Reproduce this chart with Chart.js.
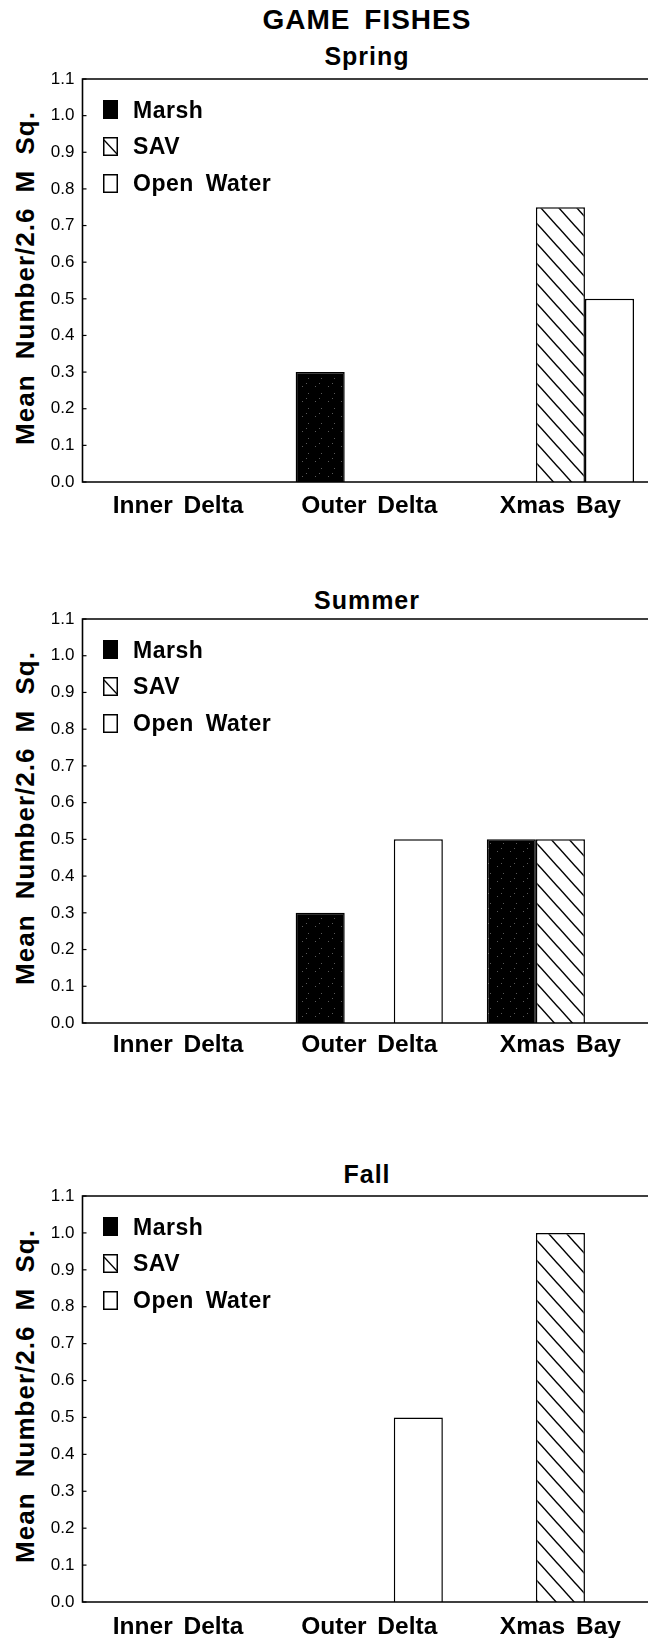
<!DOCTYPE html>
<html><head><meta charset="utf-8">
<script src="https://cdn.jsdelivr.net/npm/chart.js@4.4.0/dist/chart.umd.min.js"></script>
<style>
html,body{margin:0;padding:0;background:#fff;overflow:hidden;}
body{width:648px;height:1638px;position:relative;}
.t{position:absolute;left:0;width:734px;text-align:center;font-family:"Liberation Sans",Arial,sans-serif;font-weight:bold;color:#000;letter-spacing:1px;word-spacing:5px;white-space:nowrap;}
canvas{position:absolute;left:0;}
.lg{position:absolute;left:103px;font-family:"Liberation Sans",Arial,sans-serif;font-weight:bold;font-size:23px;letter-spacing:0.5px;word-spacing:5px;color:#000;white-space:nowrap;}
.row{position:relative;height:36.6px;}
.row svg{position:absolute;left:0;top:8.8px;}
.row span{position:absolute;left:30px;top:0;line-height:36.6px;}
.yt{position:absolute;width:420px;height:26px;line-height:26px;text-align:center;font-family:"Liberation Sans",Arial,sans-serif;font-weight:bold;font-size:26px;letter-spacing:1px;word-spacing:7px;color:#000;white-space:nowrap;transform:rotate(-90deg);transform-origin:50% 50%;}
</style>
</head><body>
<div class="t" id="mainTitle" style="top:6px;font-size:28px;line-height:28px;"></div>
<script>
// ---- data ----
const categories = ['Inner Delta', 'Outer Delta', 'Xmas Bay'];
const seriesNames = ['Marsh', 'SAV', 'Open Water'];
const springMarsh = [0, 0.3, 0];
const springSAV   = [0, 0, 0.75];
const springOpen  = [0, 0, 0.5];
const summerMarsh = [0, 0.3, 0.5];
const summerSAV   = [0, 0, 0.5];
const summerOpen  = [0, 0.5, 0];
const fallMarsh   = [0, 0, 0];
const fallSAV     = [0, 0, 1.0];
const fallOpen    = [0, 0.5, 0];
const yMin = 0, yMax = 1.1, yStep = 0.1;
const yTitle = 'Mean Number/2.6 M Sq.';
const mainTitle = 'GAME FISHES';
const seasons = ['Spring', 'Summer', 'Fall'];

// ---- layout (positions only) ----
const FAM = '"Liberation Sans", Arial, sans-serif';
const layout = [
  {plotTop: 79,   plotH: 403, titleTop: 43.8, xPad: 10},
  {plotTop: 619,  plotH: 404, titleTop: 588,  xPad: 8},
  {plotTop: 1196, plotH: 406, titleTop: 1162, xPad: 11}
];
const seasonData = [
  [springMarsh, springSAV, springOpen],
  [summerMarsh, summerSAV, summerOpen],
  [fallMarsh, fallSAV, fallOpen]
];

document.getElementById('mainTitle').textContent = mainTitle;

function makeHatch() {
  const c = document.createElement('canvas'); c.width = 18; c.height = 20;
  const g = c.getContext('2d');
  g.fillStyle = '#fff'; g.fillRect(0, 0, 18, 20);
  g.strokeStyle = '#000'; g.lineWidth = 1.5;
  for (const dx of [-18, 0, 18]) {
    g.beginPath(); g.moveTo(dx - 2, -2.22); g.lineTo(dx + 20, 22.22); g.stroke();
  }
  return g.createPattern(c, 'repeat');
}
function makeSpeckle() {
  const c = document.createElement('canvas'); c.width = 13; c.height = 15;
  const g = c.getContext('2d');
  g.fillStyle = '#000'; g.fillRect(0, 0, 13, 15);
  g.fillStyle = '#5a5a5a';
  [[3,4],[9,11],[7,1]].forEach(p => g.fillRect(p[0], p[1], 1, 1));
  return g.createPattern(c, 'repeat');
}
const hatch = makeHatch();
const speckle = makeSpeckle();
const fills = [speckle, hatch, '#ffffff'];

function setLS(ctx) {
  try { ctx.letterSpacing = '0px'; ctx.wordSpacing = '4px'; } catch (e) {}
}
const framePlugin = {
  id: 'frame',
  beforeLayout(chart) { setLS(chart.ctx); },
  beforeDraw(chart) { setLS(chart.ctx); },
  afterDatasetsDraw(chart) {
    const {ctx, chartArea: a, scales: {y}} = chart;
    ctx.save();
    ctx.strokeStyle = '#000'; ctx.lineWidth = 1.6;
    ctx.beginPath();
    ctx.moveTo(a.right + 20, a.top); ctx.lineTo(a.left, a.top);
    ctx.lineTo(a.left, a.bottom); ctx.lineTo(a.right + 20, a.bottom);
    ctx.stroke();
    ctx.lineWidth = 1.2;
    y.ticks.forEach(t => {
      const py = y.getPixelForValue(t.value);
      ctx.beginPath(); ctx.moveTo(a.left, py); ctx.lineTo(a.left + 4, py); ctx.stroke();
    });
    ctx.restore();
  }
};

function legendSwatch(i) {
  if (i === 0) return '<svg width="15" height="19"><rect x="0" y="0" width="15" height="19" fill="#000"/></svg>';
  if (i === 1) return '<svg width="15" height="19"><rect x="0.75" y="0.75" width="13.5" height="17.5" fill="#fff" stroke="#000" stroke-width="1.5"/><line x1="1" y1="3" x2="14" y2="17" stroke="#000" stroke-width="1.3"/></svg>';
  return '<svg width="15" height="19"><rect x="0.75" y="0.75" width="13.5" height="17.5" fill="#fff" stroke="#000" stroke-width="1.5"/></svg>';
}

layout.forEach((L, idx) => {
  const t = document.createElement('div');
  t.className = 't';
  t.style.top = L.titleTop + 'px';
  t.style.fontSize = '25px'; t.style.lineHeight = '25px';
  t.textContent = seasons[idx];
  document.body.appendChild(t);

  const yt = document.createElement('div');
  yt.className = 'yt';
  const cy = L.plotTop + L.plotH / 2 - 3;
  yt.style.left = (24.5 - 210) + 'px';
  yt.style.top = (cy - 13) + 'px';
  yt.textContent = yTitle;
  document.body.appendChild(yt);

  const padTop = 12, xH = 43;
  const cv = document.createElement('canvas');
  cv.width = 680; cv.height = L.plotH + padTop + xH;
  cv.style.top = (L.plotTop - padTop) + 'px';
  document.body.appendChild(cv);

  const lg = document.createElement('div');
  lg.className = 'lg';
  lg.style.top = (L.plotTop + 12.7) + 'px';
  lg.innerHTML = seriesNames.map((n, i) => '<div class="row">' + legendSwatch(i) + '<span>' + n + '</span></div>').join('');
  document.body.appendChild(lg);

  new Chart(cv.getContext('2d'), {
    type: 'bar',
    data: {
      labels: categories,
      datasets: seasonData[idx].map((arr, i) => ({
        label: seriesNames[i], data: arr,
        backgroundColor: fills[i], borderColor: '#000', borderWidth: 1.5,
        categoryPercentage: 0.77, barPercentage: 1.0
      }))
    },
    options: {
      responsive: false, animation: false, devicePixelRatio: 1,
      layout: {padding: {top: padTop, right: 24, left: 0, bottom: 0}},
      plugins: {legend: {display: false}, tooltip: {enabled: false}, title: {display: false}},
      scales: {
        x: {
          type: 'category',
          grid: {display: false, drawTicks: false}, border: {display: false},
          ticks: {color: '#000', padding: L.xPad, maxRotation: 0, autoSkip: false,
                  font: {family: FAM, size: 24.5, weight: 'bold'}},
          afterFit(s) { s.height = xH; s.paddingLeft = 0; s.paddingRight = 0; }
        },
        y: {
          min: yMin, max: yMax,
          grid: {display: false, drawTicks: false}, border: {display: false},
          ticks: {stepSize: yStep, color: '#000', padding: 8,
                  font: {family: FAM, size: 17}, callback: v => Number(v).toFixed(1)},
          afterFit(s) { s.width = 82.5; s.paddingTop = 0; s.paddingBottom = 0; }
        }
      }
    },
    plugins: [framePlugin]
  });
});
</script>
</body></html>
